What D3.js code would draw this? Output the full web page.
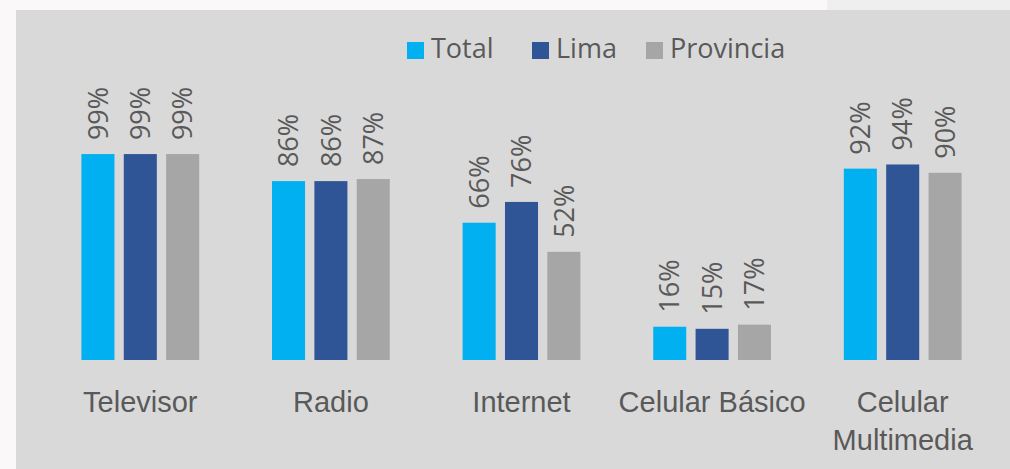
<!DOCTYPE html>
<html>
<head>
<meta charset="utf-8">
<script src="https://cdn.jsdelivr.net/npm/d3@7"></script>
<style>
  body { margin: 0; background: #faf8f8; }
  svg { display: block; font-family: "Open Sans", sans-serif; }
</style>
</head>
<body>
<svg width="1010" height="469"></svg>
<script>
var categories = ["Televisor", "Radio", "Internet", "Celular Básico", "Celular Multimedia"];
var seriesNames = ["Total", "Lima", "Provincia"];
var total = [99, 86, 66, 16, 92];
var lima = [99, 86, 76, 15, 94];
var provincia = [99, 87, 52, 17, 90];

var colors = ["#00b0f0", "#2f5597", "#a6a6a6"];
var textColor = "#595959";

var svg = d3.select("svg");

// page edges
svg.append("rect").attr("x", 827).attr("y", 0).attr("width", 183).attr("height", 10).attr("fill", "#efefef");
svg.append("rect").attr("x", 16).attr("y", 10).attr("width", 994).attr("height", 459).attr("fill", "#d9d9d9");

var padding = {left: 45, right: 12, top: 152, bottom: 109};
var chartArea = {width: 1010 - padding.left - padding.right, height: 469 - padding.top - padding.bottom};

var rows = categories.map(function(c, i) {
  return {cat: c, vals: [total[i], lima[i], provincia[i]]};
});

var xScale = d3.scaleBand().domain(categories).range([padding.left, padding.left + chartArea.width]).padding(0);
var xInner = d3.scaleBand().domain(seriesNames).range([0, xScale.bandwidth()]).paddingInner(0.22).paddingOuter(0.86);
var yScale = d3.scaleLinear().domain([0, 100]).range([padding.top + chartArea.height, padding.top]);

var groups = svg.append("g").selectAll("g").data(rows).enter()
  .append("g")
  .attr("transform", function(d) { return "translate(" + xScale(d.cat) + ",0)"; });

groups.selectAll("rect").data(function(d) {
    return d.vals.map(function(v, j) { return {name: seriesNames[j], v: v, j: j}; });
  }).enter()
  .append("rect")
  .attr("x", function(d) { return xInner(d.name); })
  .attr("width", xInner.bandwidth())
  .attr("y", function(d) { return yScale(d.v); })
  .attr("height", function(d) { return yScale(0) - yScale(d.v); })
  .attr("fill", function(d) { return colors[d.j]; });

groups.selectAll("text.val").data(function(d) {
    return d.vals.map(function(v, j) { return {name: seriesNames[j], v: v, j: j}; });
  }).enter()
  .append("text")
  .attr("class", "val")
  .attr("transform", function(d) {
    return "translate(" + (xInner(d.name) + xInner.bandwidth() / 2) + "," + (yScale(d.v) - 14) + ") rotate(-90)";
  })
  .attr("dy", "0.36em")
  .attr("fill", textColor)
  .style("font-size", "27px")
  .text(function(d) { return d.v + "%"; });

// category axis
var xAxis = svg.append("g")
  .attr("transform", "translate(0," + (padding.top + chartArea.height) + ")")
  .call(d3.axisBottom(xScale).tickSize(0).tickPadding(0));
xAxis.select(".domain").remove();
xAxis.selectAll("text").remove();
xAxis.selectAll(".tick").each(function(d) {
  var t = d3.select(this).append("text")
    .attr("fill", textColor)
    .attr("text-anchor", "middle")
    .style("font-size", "29px");
  var lines = d === "Celular Multimedia" ? ["Celular", "Multimedia"] : [d];
  lines.forEach(function(l, k) {
    t.append("tspan").attr("x", 0).attr("y", 52 + k * 38).text(l);
  });
});

// legend
var legendX = [407, 532, 646];
var legend = svg.append("g").selectAll("g").data(seriesNames).enter()
  .append("g")
  .attr("transform", function(d, i) { return "translate(" + legendX[i] + ",42)"; });
legend.append("rect").attr("width", 17).attr("height", 17).attr("fill", function(d, i) { return colors[i]; });
legend.append("text")
  .attr("x", 24).attr("y", 16)
  .attr("fill", textColor)
  .style("font-size", "27px")
  .text(function(d) { return d; });
</script>
</body>
</html>
